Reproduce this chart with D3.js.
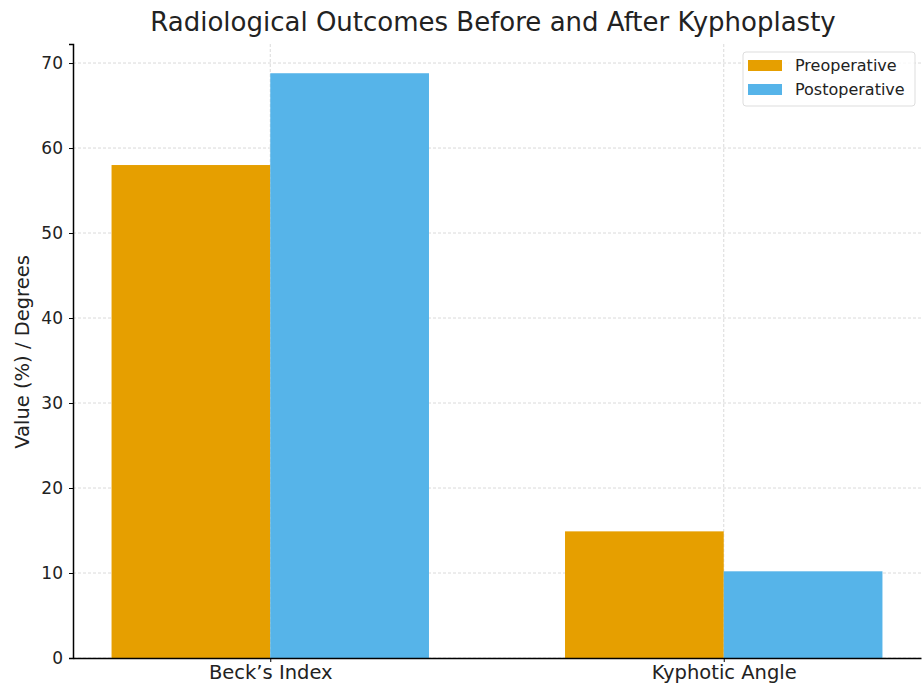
<!DOCTYPE html>
<html><head><meta charset="utf-8">
<script src="https://cdn.jsdelivr.net/npm/d3@7"></script>
<style>body{margin:0;background:#fff}svg{display:block}text{font-family:"DejaVu Sans",sans-serif;fill:#222}</style>
</head><body><svg id="c" width="923" height="684"></svg>
<script>
const categories = ["Beck\u2019s Index", "Kyphotic Angle"];
const seriesNames = ["Preoperative", "Postoperative"];
const preoperative = [58, 14.9];
const postoperative = [68.8, 10.2];
const yTicks = [0, 10, 20, 30, 40, 50, 60, 70];
const colors = ["#E69F00", "#56B4E9"];

const svg = d3.select("#c");
const m = {l: 73, r: 921, t: 44, b: 658};
const barW = 0.35;
const x = d3.scaleLinear().domain([-barW - 0.085, 1 + barW + 0.085]).range([m.l, m.r]);
const yMax = d3.max([...preoperative, ...postoperative]) * 1.05;
const y = d3.scaleLinear().domain([0, yMax]).range([m.b, m.t]);

// grid
const g = svg.append("g");
g.selectAll(".hg").data(yTicks).join("line")
  .attr("x1", m.l).attr("x2", m.r).attr("y1", d => y(d)).attr("y2", d => y(d))
  .attr("stroke", "#d0d0d0").attr("stroke-dasharray", "3,2").attr("stroke-width", 0.8);
g.selectAll(".vg").data(categories).join("line")
  .attr("x1", (d, i) => x(i)).attr("x2", (d, i) => x(i)).attr("y1", m.t).attr("y2", m.b)
  .attr("stroke", "#d0d0d0").attr("stroke-dasharray", "3,2").attr("stroke-width", 0.8);

// bars
const series = [preoperative, postoperative];
series.forEach((vals, s) => {
  svg.append("g").selectAll("rect").data(vals).join("rect")
    .attr("x", (d, i) => x(i + (s === 0 ? -barW : 0)))
    .attr("width", x(barW) - x(0))
    .attr("y", d => y(d)).attr("height", d => y(0) - y(d))
    .attr("fill", colors[s]);
});

// axes
const ya = svg.append("g").attr("transform", `translate(${m.l},0)`)
  .call(d3.axisLeft(y).tickValues(yTicks).tickSize(4).tickPadding(6));
ya.select(".domain").attr("stroke", "#000").attr("stroke-width", 1.5);
ya.selectAll("text").style("font-size", "17px").attr("fill", "#222");
const xa = svg.append("g").attr("transform", `translate(0,${m.b})`)
  .call(d3.axisBottom(x).tickValues([0, 1]).tickFormat((d) => categories[d]).tickSize(4).tickPadding(3).tickSizeOuter(0));
xa.select(".domain").attr("stroke", "#000").attr("stroke-width", 1.5);
xa.selectAll("text").style("font-size", "19.5px").attr("fill", "#222");

// title and label
svg.append("text").attr("x", 493).attr("y", 31).attr("text-anchor", "middle")
  .style("font-size", "26px").text("Radiological Outcomes Before and After Kyphoplasty");
svg.append("text").attr("transform", "translate(29,352) rotate(-90)").attr("text-anchor", "middle")
  .style("font-size", "19.5px").text("Value (%) / Degrees");

// legend
const lg = svg.append("g").attr("transform", "translate(743,52)");
lg.append("rect").attr("width", 172).attr("height", 54).attr("rx", 3)
  .attr("fill", "#fff").attr("fill-opacity", 0.8).attr("stroke", "#ddd");
seriesNames.forEach((n, i) => {
  lg.append("rect").attr("x", 5).attr("y", 8 + i * 24).attr("width", 34).attr("height", 11).attr("fill", colors[i]);
  lg.append("text").attr("x", 52).attr("y", 19 + i * 24).style("font-size", "16px").text(n);
});
</script></body></html>
